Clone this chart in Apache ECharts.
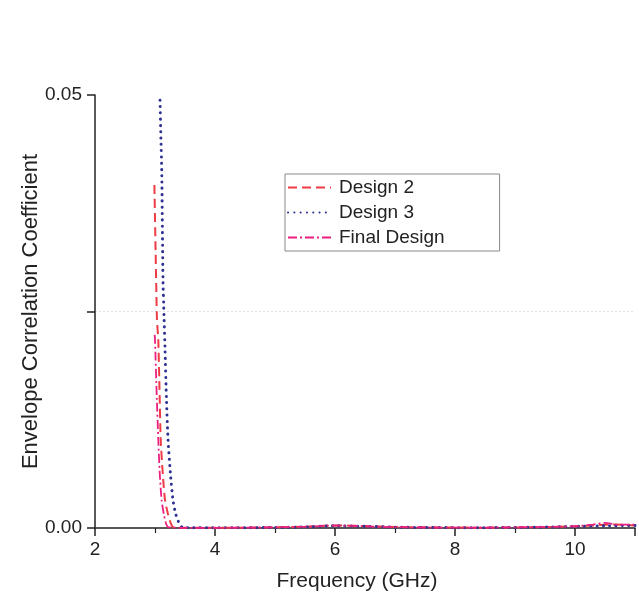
<!DOCTYPE html>
<html>
<head>
<meta charset="utf-8">
<script src="https://cdn.jsdelivr.net/npm/echarts@6/dist/echarts.min.js"></script>
<style>html,body{margin:0;padding:0;background:#fff;}#c{width:639px;height:599px;}</style>
</head>
<body>
<div id="c"></div>
<script>
// Frequency (GHz) and envelope correlation coefficient values
const design2Freq = [2.99, 3.01, 3.033, 3.055, 3.075, 3.095, 3.13, 3.167, 3.22, 3.26, 3.3, 3.5, 4, 4.5, 5, 5.5, 6, 6.5, 7, 7.5, 8, 8.5, 9, 9.5, 10, 10.3, 10.6, 11];
const design2Val  = [0.0396, 0.032, 0.024, 0.0217, 0.016, 0.0102, 0.0062, 0.0032, 0.0015, 0.0006, 0.0001, 0.00003, 0.00002, 0.00004, 0.00008, 0.00015, 0.0003, 0.00022, 0.00012, 0.00008, 0.00005, 0.00004, 0.00006, 0.0001, 0.0002, 0.0003, 0.0004, 0.0003];

const design3Freq = [3.083, 3.1, 3.112, 3.133, 3.15, 3.167, 3.19, 3.217, 3.26, 3.3, 3.35, 3.4, 3.45, 3.6, 4, 4.5, 5, 5.5, 6, 6.5, 7, 7.5, 8, 8.5, 9, 9.5, 10, 10.5, 11];
const design3Val  = [0.0494, 0.0445, 0.0413, 0.0286, 0.0245, 0.0206, 0.015, 0.0102, 0.006, 0.0032, 0.0015, 0.0006, 0.0001, 0.00003, 0.00002, 0.00003, 0.00006, 0.00012, 0.00025, 0.0002, 0.0001, 0.00006, 0.00004, 0.00004, 0.00006, 0.0001, 0.00018, 0.00025, 0.0003];

const finalFreq = [2.995, 3.0, 3.03, 3.055, 3.08, 3.11, 3.15, 3.185, 3.22, 3.4, 4, 4.5, 5, 5.5, 6, 6.5, 7, 7.5, 8, 8.5, 9, 9.5, 10, 10.3, 10.5, 10.7, 11];
const finalVal  = [0.0223, 0.0217, 0.015, 0.0102, 0.0062, 0.0032, 0.0015, 0.0005, 0.0001, 0.00003, 0.00002, 0.00004, 0.00008, 0.00015, 0.00028, 0.0002, 0.0001, 0.00006, 0.00004, 0.00005, 0.00008, 0.00012, 0.0002, 0.0004, 0.0006, 0.0004, 0.0004];

const seriesNames = ['Design 2', 'Design 3', 'Final Design'];
const yTicks = [0, 0.025, 0.05];
const xLabelValues = [2, 4, 6, 8, 10];

const pairs = (xs, ys) => xs.map((x, i) => [x, ys[i]]);

const chart = echarts.init(document.getElementById('c'), null, {renderer: 'canvas'});
const font = 'Liberation Sans, Arial, sans-serif';
chart.setOption({
  animation: false,
  backgroundColor: '#fff',
  grid: {left: 95, right: 4, top: 95, bottom: 71},
  legend: {
    show: true,
    orient: 'vertical',
    left: 285, top: 174,
    padding: [4, 55, 4, 2],
    itemGap: 6,
    itemWidth: 43, itemHeight: 14,
    borderColor: '#8a8a8a', borderWidth: 1,
    backgroundColor: '#fff',
    itemStyle: {opacity: 0},
    textStyle: {fontFamily: font, fontSize: 19, color: '#222', padding: [0, 0, 0, 3]},
    data: seriesNames
  },
  xAxis: {
    type: 'value', min: 2, max: 11, interval: 2,
    name: 'Frequency (GHz)', nameLocation: 'middle', nameGap: 43, nameMoveOverlap: false,
    nameTextStyle: {fontFamily: font, fontSize: 21, color: '#222', padding: [0, 16, 0, 0]},
    axisLine: {show: true, onZero: false, lineStyle: {color: '#222', width: 1.5}},
    axisTick: {show: true, length: 8, lineStyle: {color: '#222', width: 1.5}},
    minorTick: {show: true, splitNumber: 2, length: 5, lineStyle: {color: '#222', width: 1.2}},
    axisLabel: {fontFamily: font, fontSize: 19, color: '#222', margin: 12,
      formatter: v => xLabelValues.includes(v) ? String(v) : ''},
    splitLine: {show: false}
  },
  yAxis: {
    type: 'value', min: yTicks[0], max: yTicks[2], interval: 0.025,
    name: 'Envelope Correlation Coefficient', nameLocation: 'middle', nameGap: 53, nameMoveOverlap: false,
    nameTextStyle: {fontFamily: font, fontSize: 22, color: '#222'},
    axisLine: {show: true, lineStyle: {color: '#222', width: 1.5}},
    axisTick: {show: true, length: 8, lineStyle: {color: '#222', width: 1.5}},
    axisLabel: {fontFamily: font, fontSize: 19, color: '#222', margin: 13,
      formatter: v => (Math.abs(v - 0.025) < 1e-9) ? '' : v.toFixed(2)},
    splitLine: {show: true, lineStyle: {color: ['rgba(0,0,0,0)', '#e2e2e2', 'rgba(0,0,0,0)'], width: 1, type: [2, 2]}}
  },
  series: [
    {
      name: seriesNames[0], type: 'line', data: pairs(design2Freq, design2Val),
      symbol: 'none', smooth: 0.2, color: '#ef3b45',
      lineStyle: {color: '#ef3b45', width: 2, type: [9, 5]}
    },
    {
      name: seriesNames[1], type: 'line', data: pairs(design3Freq, design3Val),
      symbol: 'none', smooth: 0.2, color: '#2e3192',
      lineStyle: {color: '#2e3192', width: 3, type: [0.1, 6.2], cap: 'round'}
    },
    {
      name: seriesNames[2], type: 'line', data: pairs(finalFreq, finalVal),
      symbol: 'none', smooth: 0.2, color: '#ec1f80',
      lineStyle: {color: '#ec1f80', width: 1.8, type: [9, 3, 2, 3]}
    }
  ]
});
</script>
</body>
</html>
